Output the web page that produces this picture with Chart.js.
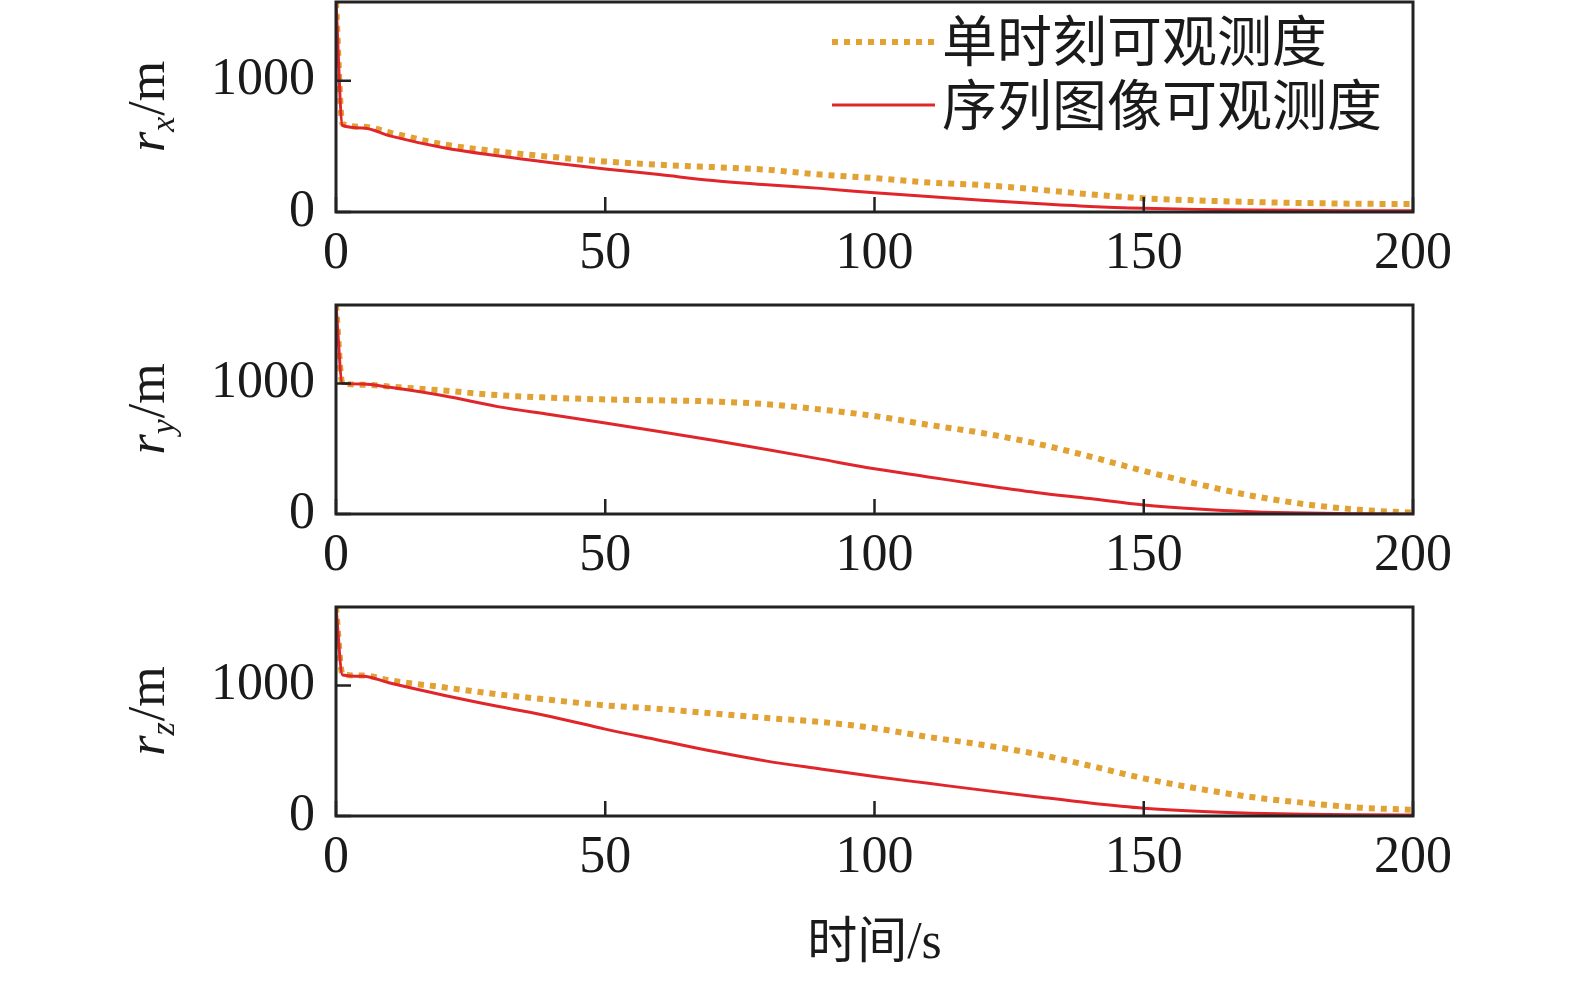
<!DOCTYPE html>
<html>
<head>
<meta charset="utf-8">
<script src="https://cdn.jsdelivr.net/npm/chart.js@4.4.1/dist/chart.umd.min.js"></script>
<style>
  html, body { margin: 0; padding: 0; background: #fff; }
  #wrap { position: relative; width: 1575px; height: 983px; overflow: hidden; }
  #wrap canvas { position: absolute; left: 0; }
</style>
</head>
<body>
<div id="wrap">
  <canvas id="c1" width="1575" height="300" style="top:0px"></canvas>
  <canvas id="c2" width="1575" height="300" style="top:300px"></canvas>
  <canvas id="c3" width="1575" height="383" style="top:600px"></canvas>
</div>
<script>
// time axis (s) shared by all series
var T = [0, 1.2, 5, 10, 20, 30, 40, 50, 60, 70, 80, 90, 100, 110, 120, 130, 140, 150, 160, 170, 180, 190, 200];

// r_x (m)
var xSingle = [1600, 670, 650, 605, 515, 462, 420, 385, 360, 342, 322, 285, 258, 225, 205, 172, 135, 104, 88, 76, 68, 63, 60];
var xSeq    = [1600, 660, 640, 580, 490, 428, 375, 328, 285, 240, 207, 180, 146, 118, 90, 64, 42, 28, 20, 15, 12, 10, 10];
// r_y (m)
var ySingle = [1600, 1000, 990, 975, 945, 910, 890, 877, 870, 862, 840, 800, 750, 683, 620, 540, 440, 330, 230, 140, 75, 32, 10];
var ySeq    = [1600, 1000, 995, 970, 905, 822, 760, 697, 632, 564, 494, 420, 346, 284, 222, 165, 118, 69, 38, 18, 7, 2, 0];
// r_z (m)
var zSingle = [1600, 1085, 1075, 1038, 985, 932, 888, 847, 820, 785, 750, 720, 672, 605, 545, 475, 385, 288, 210, 145, 100, 64, 48];
var zSeq    = [1600, 1080, 1070, 1018, 925, 840, 760, 665, 580, 495, 420, 360, 302, 250, 198, 148, 100, 60, 36, 22, 14, 10, 8];

var xTicks = [0, 50, 100, 150, 200];
var yTicks = [0, 1000];
var seriesNames = ["单时刻可观测度", "序列图像可观测度"];

var ORANGE = "#e1a133";
var RED = "#e0262b";
var INK = "#1a1a1a";
var SERIF = "'Liberation Serif', 'DejaVu Serif', serif";
var CJK = "'Noto Sans CJK SC', sans-serif";

function pts(vals) {
  return vals.map(function (v, i) { return { x: T[i], y: v }; });
}

// box frame, inward ticks, axis label, legend
var framePlugin = {
  id: "frame",
  afterDraw: function (chart) {
    var o = chart.options.plugins.frame;
    var ctx = chart.ctx;
    var a = chart.chartArea;
    var sx = chart.scales.x, sy = chart.scales.y;
    ctx.save();
    ctx.strokeStyle = "#222";
    ctx.lineWidth = 3;
    ctx.strokeRect(a.left, a.top, a.right - a.left, a.bottom - a.top);
    ctx.lineWidth = 2.5;
    ctx.beginPath();
    xTicks.forEach(function (v) {
      var px = sx.getPixelForValue(v);
      ctx.moveTo(px, a.bottom);
      ctx.lineTo(px, a.bottom - 15);
    });
    yTicks.forEach(function (v) {
      var py = sy.getPixelForValue(v);
      ctx.moveTo(a.left, py);
      ctx.lineTo(a.left + 15, py);
    });
    ctx.stroke();

    // rotated y label: r_sub/m
    var cy = (a.top + a.bottom) / 2;
    ctx.translate(164, cy);
    ctx.rotate(-Math.PI / 2);
    ctx.fillStyle = INK;
    ctx.textBaseline = "alphabetic";
    ctx.textAlign = "left";
    var f1 = "italic 52px " + SERIF, f2 = "italic 34px " + SERIF, f3 = "52px " + SERIF;
    ctx.font = f1; var w1 = ctx.measureText("r").width;
    ctx.font = f2; var w2 = ctx.measureText(o.sub).width;
    ctx.font = f3; var w3 = ctx.measureText("/m").width;
    var x0 = -(w1 + w2 + w3) / 2;
    ctx.font = f1; ctx.fillText("r", x0, 0);
    ctx.font = f2; ctx.fillText(o.sub, x0 + w1, 10);
    ctx.font = f3; ctx.fillText("/m", x0 + w1 + w2 + 1, 0);
    ctx.restore();

    if (o.legend) {
      ctx.save();
      ctx.lineCap = "butt";
      ctx.strokeStyle = ORANGE;
      ctx.lineWidth = 6;
      ctx.setLineDash([6, 6]);
      ctx.beginPath(); ctx.moveTo(832, 42); ctx.lineTo(937, 42); ctx.stroke();
      ctx.setLineDash([]);
      ctx.strokeStyle = RED;
      ctx.lineWidth = 3;
      ctx.beginPath(); ctx.moveTo(832, 105); ctx.lineTo(935, 105); ctx.stroke();
      ctx.fillStyle = INK;
      ctx.font = "55px " + CJK;
      ctx.textBaseline = "middle";
      ctx.fillText(seriesNames[0], 942, 40);
      ctx.fillText(seriesNames[1], 942, 104);
      ctx.restore();
    }

    if (o.xTitle) {
      ctx.save();
      ctx.fillStyle = INK;
      ctx.textBaseline = "alphabetic";
      ctx.font = "50px " + CJK; var wa = ctx.measureText("时间").width;
      ctx.font = "52px " + SERIF; var wb = ctx.measureText("/s").width;
      var cx = (a.left + a.right) / 2 - (wa + wb) / 2;
      var base = a.bottom + 142;
      ctx.font = "50px " + CJK; ctx.fillText("时间", cx, base);
      ctx.font = "52px " + SERIF; ctx.fillText("/s", cx + wa, base);
      ctx.restore();
    }
  }
};

function makePanel(id, single, seq, sub, pad, legend, xTitle) {
  return new Chart(document.getElementById(id), {
    type: "line",
    data: {
      datasets: [
        {
          label: seriesNames[0],
          data: pts(single),
          borderColor: ORANGE,
          borderWidth: 6,
          borderDash: [6, 6],
          borderCapStyle: "butt",
          pointRadius: 0,
          cubicInterpolationMode: "monotone",
          order: 2
        },
        {
          label: seriesNames[1],
          data: pts(seq),
          borderColor: RED,
          borderWidth: 3,
          pointRadius: 0,
          cubicInterpolationMode: "monotone",
          order: 1
        }
      ]
    },
    options: {
      responsive: false,
      animation: false,
      layout: { autoPadding: false, padding: { left: 0, right: 162, top: pad.top, bottom: pad.bottom } },
      plugins: {
        legend: { display: false },
        tooltip: { enabled: false },
        frame: { sub: sub, legend: legend, xTitle: xTitle }
      },
      scales: {
        x: {
          type: "linear",
          min: 0,
          max: 200,
          afterBuildTicks: function (s) { s.ticks = xTicks.map(function (v) { return { value: v }; }); },
          afterFit: function (s) { s.height = 80; s.paddingLeft = 0; s.paddingRight = 0; },
          grid: { display: false, drawTicks: false },
          border: { display: false },
          ticks: {
            color: INK, font: { family: SERIF, size: 52 }, padding: 11, maxRotation: 0,
            callback: function (v) { return String(v); }
          }
        },
        y: {
          type: "linear",
          min: 0,
          max: 1600,
          afterBuildTicks: function (s) { s.ticks = yTicks.map(function (v) { return { value: v }; }); },
          afterFit: function (s) { s.width = 336; s.paddingTop = 0; s.paddingBottom = 0; },
          grid: { display: false, drawTicks: false },
          border: { display: false },
          ticks: {
            color: INK, font: { family: SERIF, size: 52 }, padding: 21,
            callback: function (v) { return String(v); }
          }
        }
      }
    },
    plugins: [framePlugin]
  });
}

makePanel("c1", xSingle, xSeq, "x", { top: 2, bottom: 8 }, true, false);
makePanel("c2", ySingle, ySeq, "y", { top: 5, bottom: 6 }, false, false);
makePanel("c3", zSingle, zSeq, "z", { top: 7, bottom: 87 }, false, true);
</script>
</body>
</html>
